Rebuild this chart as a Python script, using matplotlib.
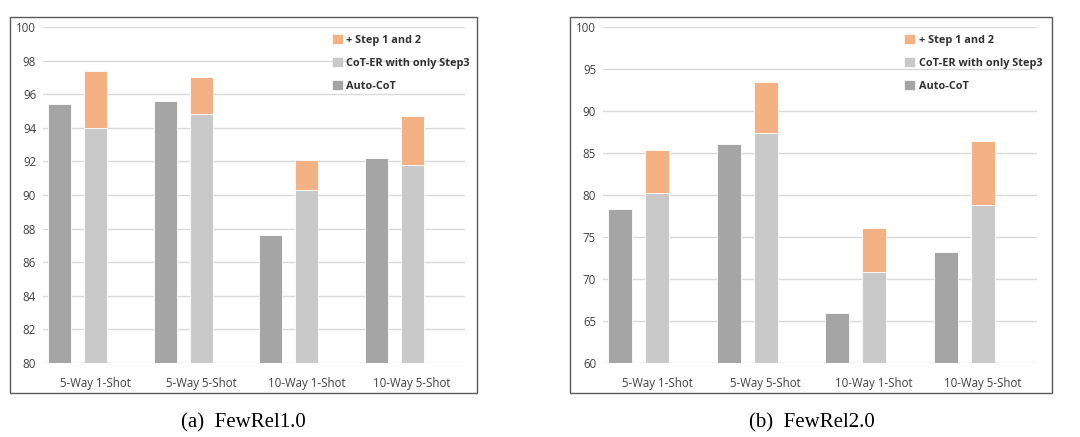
import matplotlib.pyplot as plt
from matplotlib.patches import Rectangle, Patch
import numpy as np

# Data
categories = ["5-Way 1-Shot", "5-Way 5-Shot", "10-Way 1-Shot", "10-Way 5-Shot"]

# FewRel1.0
auto_cot_1 = [95.4, 95.6, 87.6, 92.2]
step3_only_1 = [94.0, 94.8, 90.3, 91.8]
full_1 = [97.4, 97.0, 92.1, 94.7]

# FewRel2.0
auto_cot_2 = [78.3, 86.1, 65.9, 73.2]
step3_only_2 = [80.2, 87.4, 70.8, 78.8]
full_2 = [85.4, 93.4, 76.1, 86.4]

c_dark = "#A5A5A5"
c_light = "#C9C9C9"
c_orange = "#F4B183"

plt.rcParams['font.family'] = ['Open Sans', 'DejaVu Sans']

fig = plt.figure(figsize=(10.8, 4.37), dpi=100)


def panel(box, axrect, auto, step3, full, ylim, step, caption, cap_x):
    # outer frame
    fig.patches.append(Rectangle((box[0], box[1]), box[2], box[3], transform=fig.transFigure,
                                 fill=False, edgecolor="#595959", linewidth=1.0))
    ax = fig.add_axes(axrect)
    x = np.arange(len(categories))
    w = 0.22
    ax.bar(x - 0.34, auto, w, color=c_dark, edgecolor="white", linewidth=0.6, zorder=3)
    ax.bar(x, step3, w, color=c_light, edgecolor="white", linewidth=0.6, zorder=3)
    diff = np.array(full) - np.array(step3)
    ax.bar(x, diff, w, bottom=step3, color=c_orange, edgecolor="white", linewidth=0.6, zorder=3)

    ax.set_ylim(*ylim)
    ax.set_xlim(-0.5, len(categories) - 0.5)
    ax.set_yticks(np.arange(ylim[0], ylim[1] + 0.1, step))
    ax.set_xticks(x)
    ax.set_xticklabels(categories)
    ax.tick_params(axis="both", length=0, labelsize=8.3, colors="#404040")
    ax.tick_params(axis="x", pad=10)
    ax.tick_params(axis="y", pad=5)
    ax.yaxis.grid(True, color="#D9D9D9", linewidth=1.0, zorder=0)
    for s in ax.spines.values():
        s.set_visible(False)
    ax.set_facecolor("none")

    handles = [Patch(color=c_orange, label="+ Step 1 and 2"),
               Patch(color=c_light, label="CoT-ER with only Step3"),
               Patch(color=c_dark, label="Auto-CoT")]
    leg = ax.legend(handles=handles, loc="upper right", bbox_to_anchor=(1.035, 1.005), frameon=False,
                    prop={"weight": "bold", "size": 7.8}, handlelength=0.8, handleheight=0.8,
                    handletextpad=0.45, labelspacing=1.1)
    for t in leg.get_texts():
        t.set_color("#303030")

    fig.text(cap_x, 0.032, caption, ha="center", va="center", fontsize=15,
             family="Liberation Serif")
    return ax


panel((0.0093, 0.1007, 0.4324, 0.8604), (0.0398, 0.1693, 0.3907, 0.7689),
      auto_cot_1, step3_only_1, full_1, (80, 100), 2, "(a)  FewRel1.0", 0.2255)
panel((0.5278, 0.1007, 0.4463, 0.8604), (0.5583, 0.1693, 0.4019, 0.7689),
      auto_cot_2, step3_only_2, full_2, (60, 100), 5, "(b)  FewRel2.0", 0.7515)

fig.savefig("out.png", dpi=100)
